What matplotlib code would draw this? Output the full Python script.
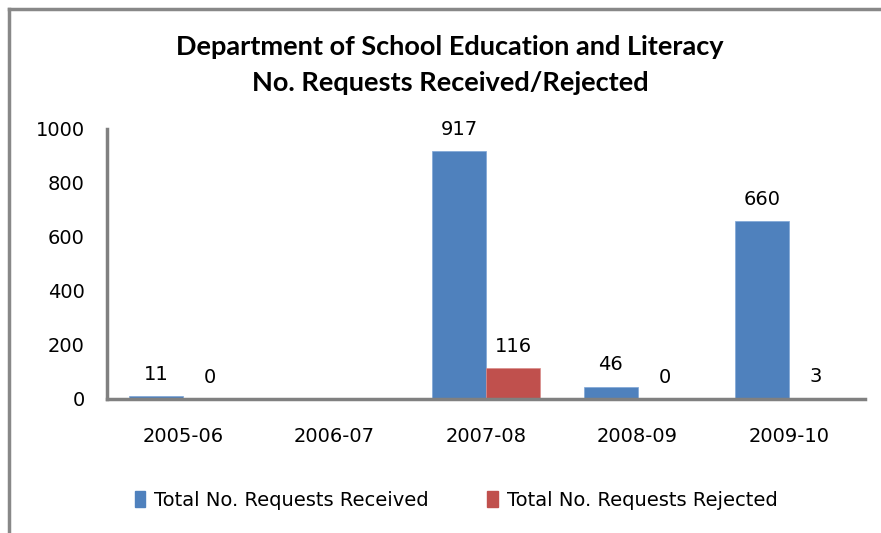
import matplotlib.pyplot as plt
import numpy as np
from matplotlib.lines import Line2D
from matplotlib.patches import Patch

years = ["2005-06", "2006-07", "2007-08", "2008-09", "2009-10"]
received = [11, None, 917, 46, 660]
rejected = [0, None, 116, 0, 3]

blue = "#4f81bd"
red = "#c0504d"

fig = plt.figure(figsize=(8.81, 5.33), dpi=100)
ax = fig.add_axes([107 / 881, 1 - 399 / 533, (865 - 107) / 881, 270 / 533])

x = np.arange(len(years))
w = 0.356
for i in range(len(years)):
    if received[i] is None:
        continue
    ax.bar(x[i] - w / 2, received[i], w, color=blue, edgecolor="#7ea6d6", linewidth=0.5)
    ax.bar(x[i] + w / 2, rejected[i], w, color=red, edgecolor="#d98c8a", linewidth=0.5)
    ax.text(x[i] - w / 2, received[i] + 45, str(received[i]), ha="center", va="bottom", fontsize=14)
    ax.text(x[i] + w / 2, rejected[i] + 45, str(rejected[i]), ha="center", va="bottom", fontsize=14)

ax.set_xlim(-0.5, len(years) - 0.5)
ax.set_ylim(0, 1000)
ax.set_yticks(range(0, 1001, 200))
ax.set_xticks(x)
ax.set_xticklabels(years)
ax.tick_params(length=0, labelsize=14)
ax.tick_params(axis="y", pad=16)
ax.tick_params(axis="x", pad=20)
for s in ["top", "right"]:
    ax.spines[s].set_visible(False)
for s in ["left", "bottom"]:
    ax.spines[s].set_color("#808080")
    ax.spines[s].set_linewidth(2.5)

fig.text(450 / 881, 1 - 47 / 533, "Department of School Education and Literacy",
         ha="center", va="center", fontsize=19.5, fontweight="bold", family="Lato")
fig.text(450 / 881, 1 - 83 / 533, "No. Requests Received/Rejected",
         ha="center", va="center", fontsize=19.5, fontweight="bold", family="Lato")

handles = [Patch(color=blue), Patch(color=red)]
fig.legend(handles, ["Total No. Requests Received", "Total No. Requests Rejected"],
           loc="center", bbox_to_anchor=(456 / 881, 1 - 500 / 533), ncol=2, frameon=False,
           fontsize=14, handlelength=0.55, handleheight=0.9, handletextpad=0.45,
           columnspacing=3.0)

# outer chart border
fig.add_artist(Line2D([8.5 / 881, 1], [1 - 9 / 533, 1 - 9 / 533], color="#888888", lw=2.5))
fig.add_artist(Line2D([8.5 / 881, 8.5 / 881], [1 - 9 / 533, 0], color="#888888", lw=2.5))

fig.savefig("out.png", dpi=100)
